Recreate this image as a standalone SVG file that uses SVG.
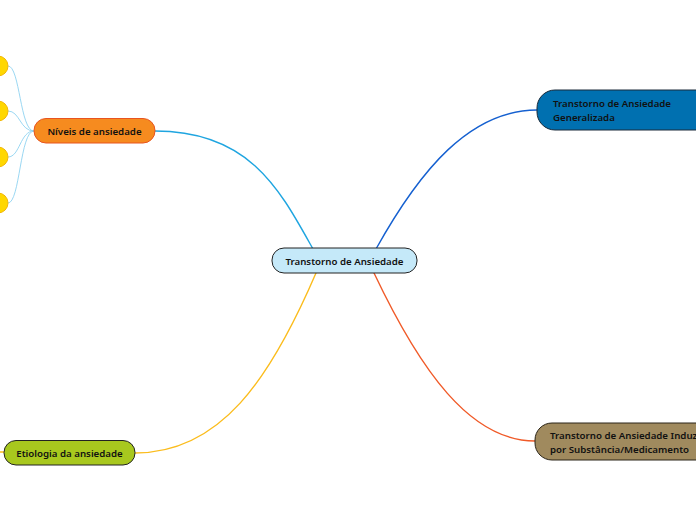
<svg xmlns="http://www.w3.org/2000/svg" width="696" height="520" viewBox="0 0 696 520">
<style>
.t{font-family:"Noto Sans","Open Sans","Liberation Sans",sans-serif;font-size:9.7px;font-weight:600;fill:#111}
.c{fill:none;stroke-linecap:round}
.leaf{fill:#ffd700;stroke:#f2b705;stroke-width:1}
</style>
<rect width="696" height="520" fill="#fff"/>
<g id="connectors">
<path class="c" d="M155,131 C250,131 280,190 313,249" stroke="#1fa5e0" stroke-width="1.4"/>
<path class="c" d="M376,249 C420,170 470,110 537,110" stroke="#1560d0" stroke-width="1.4"/>
<path class="c" d="M374,273 C420,370 470,441 535,441" stroke="#f05a28" stroke-width="1.4"/>
<path class="c" d="M316,273 C270,380 220,453 135,453" stroke="#fbbc1c" stroke-width="1.4"/>
<path class="c" d="M0,452 L4,452" stroke="#fbbc1c" stroke-width="1.4"/>
<g stroke="#8fd3f0" stroke-width="0.9" fill="none">
<path d="M34,131 C20,131 20,66 8,66"/>
<path d="M34,131 C20,131 20,111 8,111"/>
<path d="M34,131 C20,131 20,157 8,157"/>
<path d="M34,131 C20,131 20,203 8,203"/>
</g>
</g>
<g id="leaf1"><circle class="leaf" cx="-2" cy="66" r="10"/></g>
<g id="leaf2"><circle class="leaf" cx="-2" cy="111" r="10"/></g>
<g id="leaf3"><circle class="leaf" cx="-2" cy="157" r="10"/></g>
<g id="leaf4"><circle class="leaf" cx="-2" cy="203" r="10"/></g>
<g id="center">
<rect x="272" y="248" width="145" height="25" rx="12" fill="#c5e9f9" stroke="#222" stroke-width="1"/>
<text class="t" x="344.5" y="264.5" text-anchor="middle">Transtorno de Ansiedade</text>
</g>
<g id="niveis">
<rect x="34" y="118.5" width="121" height="24.5" rx="12" fill="#f68b1f" stroke="#e8541f" stroke-width="1"/>
<text class="t" x="94.5" y="134.5" text-anchor="middle">Níveis de ansiedade</text>
</g>
<g id="generalizada">
<rect x="537" y="90" width="180" height="40" rx="18" fill="#0070b0" stroke="#1a2a3a" stroke-width="1"/>
<text class="t" x="553" y="107">Transtorno de Ansiedade</text>
<text class="t" x="553" y="121">Generalizada</text>
</g>
<g id="substancia">
<rect x="535" y="423" width="180" height="37" rx="17" fill="#a08a5e" stroke="#2a2418" stroke-width="1"/>
<text class="t" x="550" y="439">Transtorno de Ansiedade Induz</text>
<text class="t" x="550" y="453">por Substância/Medicamento</text>
</g>
<g id="etiologia">
<rect x="4" y="440.5" width="131" height="24.5" rx="12" fill="#a8c81e" stroke="#222" stroke-width="1"/>
<text class="t" x="69.5" y="456.5" text-anchor="middle">Etiologia da ansiedade</text>
</g>
</svg>
